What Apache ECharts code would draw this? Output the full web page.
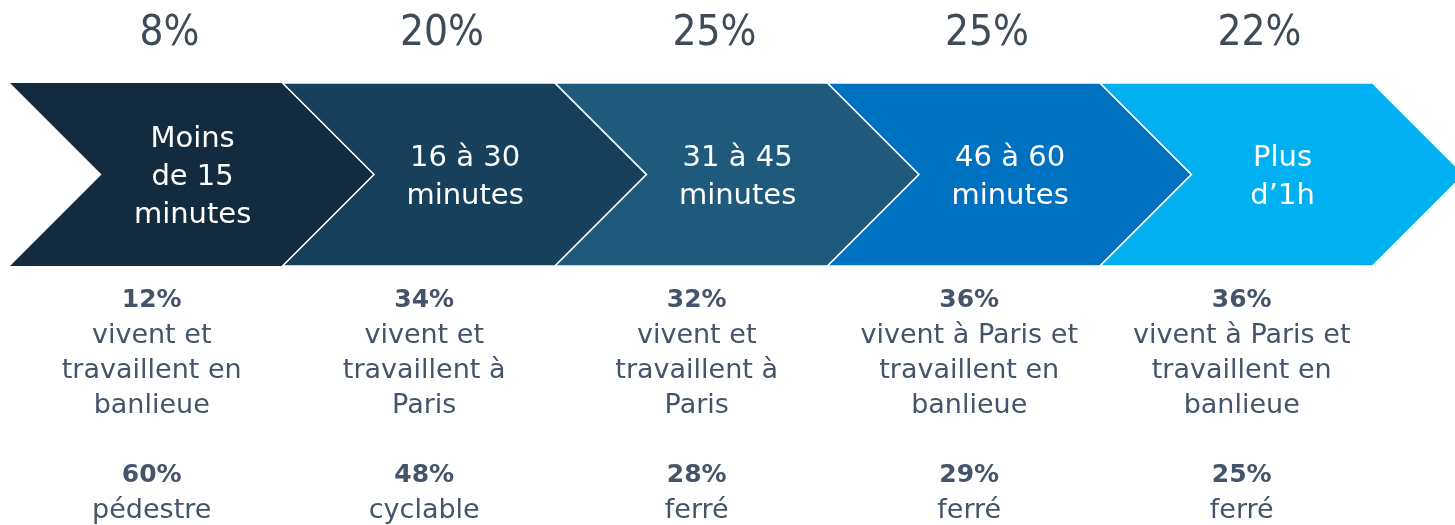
<!DOCTYPE html>
<html>
<head>
<meta charset="utf-8">
<script src="https://cdn.jsdelivr.net/npm/echarts@6/dist/echarts.min.js"></script>
<style>
html,body{margin:0;padding:0;background:#fff;}
#chart{width:1455px;height:525px;}
</style>
</head>
<body>
<div id="chart"></div>
<script>
// ---- data ----
const categories = ['Moins\nde 15\nminutes', '16 à 30\nminutes', '31 à 45\nminutes', '46 à 60\nminutes', 'Plus\nd’1h'];
const sharePct = [8, 20, 25, 25, 22];
const residencePct = [12, 34, 32, 36, 36];
const residenceText = [
  'vivent et\ntravaillent en\nbanlieue',
  'vivent et\ntravaillent à\nParis',
  'vivent et\ntravaillent à\nParis',
  'vivent à Paris et\ntravaillent en\nbanlieue',
  'vivent à Paris et\ntravaillent en\nbanlieue'
];
const modePct = [60, 48, 28, 29, 25];
const modeText = ['pédestre', 'cyclable', 'ferré', 'ferré', 'ferré'];

// ---- style ----
const chevronColors = ['#132b3e', '#16405b', '#1f5a7c', '#0070c0', '#00b0f0'];
const textColor = '#44546a';
const FONT = 'DejaVu Sans';

const chart = echarts.init(document.getElementById('chart'), null, {renderer: 'canvas'});
const idx = categories.map((c, i) => i);

function chevron(params, api) {
  const i = api.value(0);
  const tl = api.coord([i, 1]);
  const br = api.coord([i + 1, 0]);
  const top = tl[1], bot = br[1], x0 = tl[0], x1 = br[0];
  const d = (bot - top) / 2, mid = (top + bot) / 2;
  return {
    type: 'polygon',
    shape: {points: [[x0, top], [x1, top], [x1 + d, mid], [x1, bot], [x0, bot], [x0 + d, mid]]},
    style: {fill: chevronColors[i], stroke: i === 0 ? null : '#ffffff', lineWidth: 1.5}
  };
}

function label(params, api) {
  const i = api.value(0);
  const p = api.coord([i + 0.67, 0.5]);
  return {
    type: 'text',
    x: p[0], y: p[1] + 3,
    style: {text: categories[i], fill: '#ffffff', fontFamily: FONT, fontSize: 29,
      align: 'center', verticalAlign: 'middle', lineHeight: 38}
  };
}

function topNum(params, api) {
  const i = api.value(0);
  const p = api.coord([i + 0.585, 1]);
  return {
    type: 'text',
    x: p[0], y: p[1] - 49,
    style: {text: sharePct[i] + '%', fill: '#3e4b59', fontFamily: '"DejaVu Sans Condensed", "DejaVu Sans"', fontSize: 42,
      align: 'center', verticalAlign: 'middle'}
  };
}

const rich = {
  b: {fontFamily: FONT, fontSize: 25, fontWeight: 'bold', fill: textColor, lineHeight: 35},
  n: {fontFamily: FONT, fontSize: 27, fill: textColor, lineHeight: 35}
};

function bottomText(params, api) {
  const i = api.value(0);
  const p = api.coord([i + 0.52, 0]);
  const base = p[1];
  return {
    type: 'group',
    children: [
      {type: 'text', x: p[0], y: base + 17,
        style: {text: '{b|' + residencePct[i] + '%}\n' + residenceText[i].split('\n').map(s => '{n|' + s + '}').join('\n'),
          align: 'center', verticalAlign: 'top', fill: textColor, rich: rich}},
      {type: 'text', x: p[0], y: base + 192,
        style: {text: '{b|' + modePct[i] + '%}\n{n|' + modeText[i] + '}',
          align: 'center', verticalAlign: 'top', fill: textColor, rich: rich}}
    ]
  };
}

chart.setOption({
  animation: false,
  grid: {left: 10, right: 82.5, top: 83, bottom: 259},
  xAxis: {type: 'value', min: 0, max: 5, show: false},
  yAxis: {type: 'value', min: 0, max: 1, show: false},
  series: [
    {type: 'custom', renderItem: chevron, data: idx, clip: false, silent: true},
    {type: 'custom', renderItem: label, data: idx, clip: false, silent: true},
    {type: 'custom', renderItem: topNum, data: idx, clip: false, silent: true},
    {type: 'custom', renderItem: bottomText, data: idx, clip: false, silent: true}
  ]
});
</script>
</body>
</html>
